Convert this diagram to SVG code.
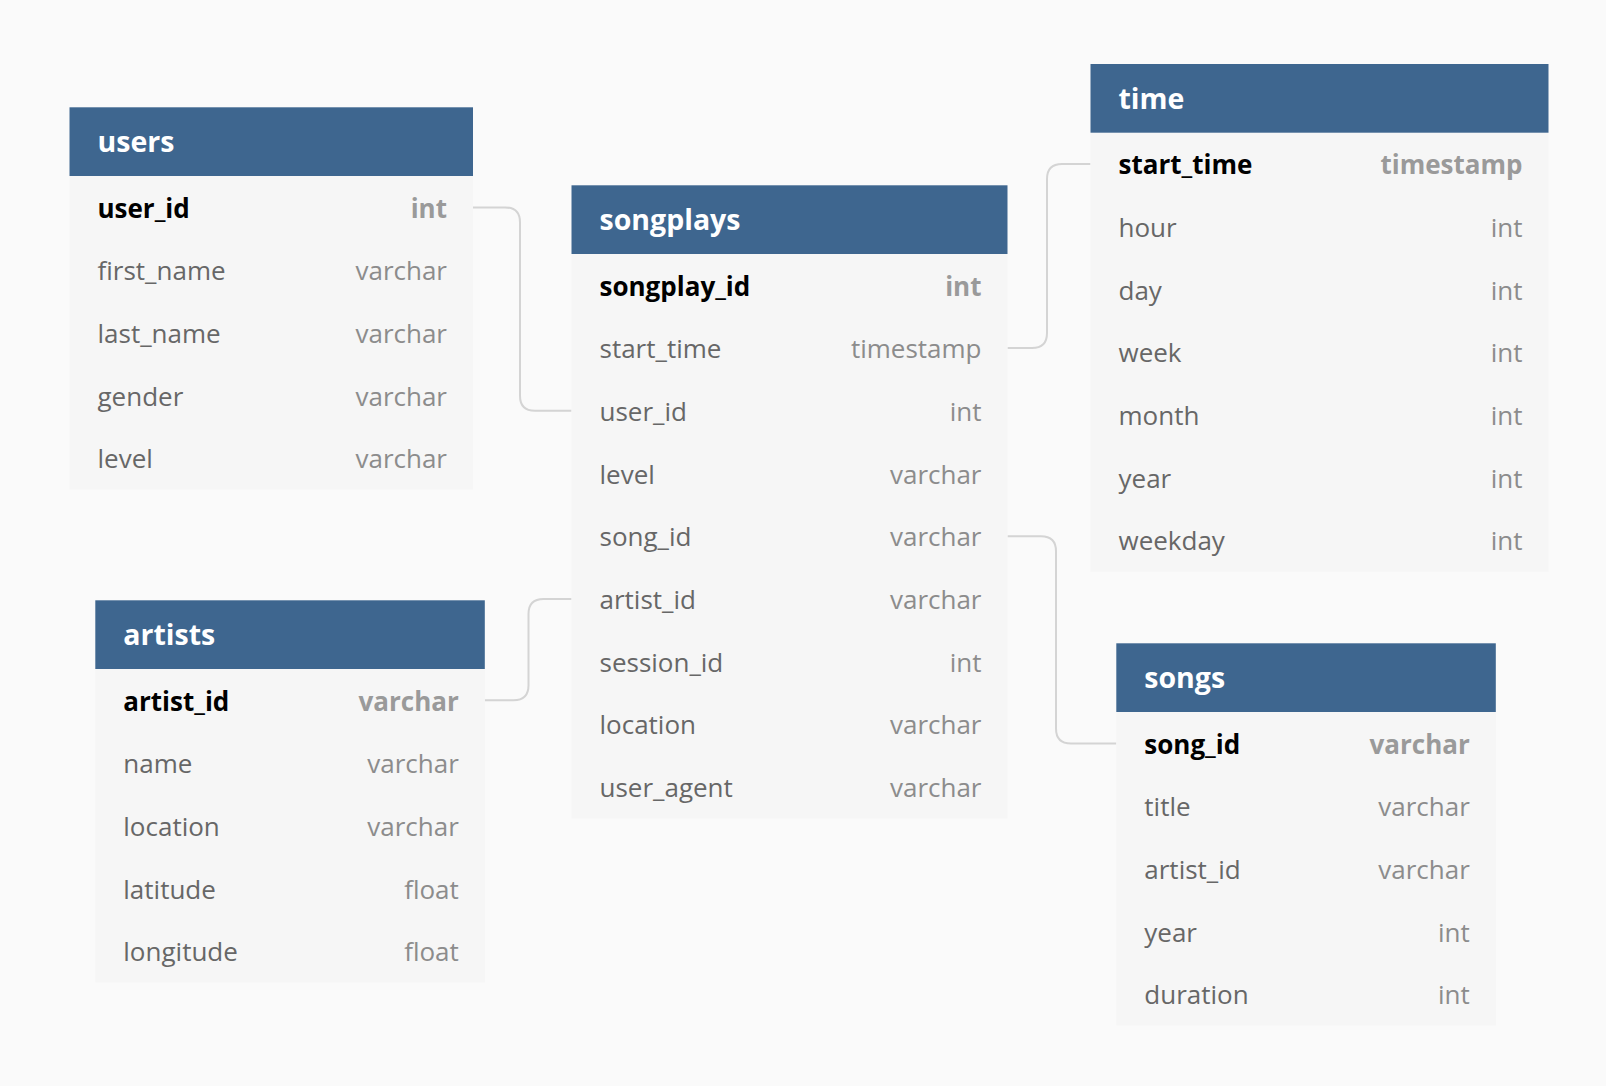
<svg xmlns="http://www.w3.org/2000/svg" width="1606" height="1086" viewBox="0 0 1606 1086">
<style>
  .bg{fill:#fafafa}
  .hdr{fill:#3e668f}
  .body{fill:#f6f6f6}
  .title{font-family:"Open Sans","Noto Sans",sans-serif;font-weight:700;font-size:28.5px;fill:#ffffff}
  .pk{font-family:"Open Sans","Noto Sans",sans-serif;font-weight:700;font-size:26px;fill:#000000}
  .pkt{font-family:"Open Sans","Noto Sans",sans-serif;font-weight:700;font-size:26px;fill:#9a9a9a;text-anchor:end}
  .col{font-family:"Open Sans","Noto Sans",sans-serif;font-size:26px;fill:#676767}
  .typ{font-family:"Open Sans","Noto Sans",sans-serif;font-size:26px;fill:#8c8c8c;text-anchor:end}
  .conn path{fill:none;stroke:#d4d4d4;stroke-width:2}
</style>
<rect class="bg" x="0" y="0" width="1606" height="1086"/>

<g id="connectors" class="conn">
  <path d="M473,207.4 H505 Q520,207.4 520,222.4 V395.7 Q520,410.7 535,410.7 H571.5"/>
  <path d="M1007.5,348 H1032 Q1047,348 1047,333 V179 Q1047,164 1062,164 H1090.5"/>
  <path d="M1007.5,536.2 H1041 Q1056,536.2 1056,551.2 V728.4 Q1056,743.4 1071,743.4 H1116.3"/>
  <path d="M484.8,700.3 H513.5 Q528.5,700.3 528.5,685.3 V614 Q528.5,599 543.5,599 H571.5"/>
</g>

<g id="users">
  <rect class="body" x="69.5" y="176" width="403.5" height="313.5"/>
  <rect class="hdr" x="69.5" y="107.3" width="403.5" height="68.7"/>
  <g transform="translate(-1,1)">
  <text class="title" x="98.5" y="151.3">users</text>
  <text class="pk" x="98.5" y="216.5">user_id</text><text class="pkt" x="448" y="216.5">int</text>
  <text class="col" x="98.5" y="279.2">first_name</text><text class="typ" x="448" y="279.2">varchar</text>
  <text class="col" x="98.5" y="341.9">last_name</text><text class="typ" x="448" y="341.9">varchar</text>
  <text class="col" x="98.5" y="404.6">gender</text><text class="typ" x="448" y="404.6">varchar</text>
  <text class="col" x="98.5" y="467.3">level</text><text class="typ" x="448" y="467.3">varchar</text>
  </g>
</g>

<g id="songplays">
  <rect class="body" x="571.5" y="254" width="436" height="564.3"/>
  <rect class="hdr" x="571.5" y="185.3" width="436" height="68.7"/>
  <g transform="translate(-1,1)">
  <text class="title" x="600.5" y="229.3">songplays</text>
  <text class="pk" x="600.5" y="294.5">songplay_id</text><text class="pkt" x="982.5" y="294.5">int</text>
  <text class="col" x="600.5" y="357.2">start_time</text><text class="typ" x="982.5" y="357.2">timestamp</text>
  <text class="col" x="600.5" y="419.9">user_id</text><text class="typ" x="982.5" y="419.9">int</text>
  <text class="col" x="600.5" y="482.6">level</text><text class="typ" x="982.5" y="482.6">varchar</text>
  <text class="col" x="600.5" y="545.3">song_id</text><text class="typ" x="982.5" y="545.3">varchar</text>
  <text class="col" x="600.5" y="608">artist_id</text><text class="typ" x="982.5" y="608">varchar</text>
  <text class="col" x="600.5" y="670.7">session_id</text><text class="typ" x="982.5" y="670.7">int</text>
  <text class="col" x="600.5" y="733.4">location</text><text class="typ" x="982.5" y="733.4">varchar</text>
  <text class="col" x="600.5" y="796.1">user_agent</text><text class="typ" x="982.5" y="796.1">varchar</text>
  </g>
</g>

<g id="time">
  <rect class="body" x="1090.5" y="132.7" width="458" height="438.9"/>
  <rect class="hdr" x="1090.5" y="64" width="458" height="68.7"/>
  <g transform="translate(-1,1)">
  <text class="title" x="1119.5" y="108">time</text>
  <text class="pk" x="1119.5" y="173.2">start_time</text><text class="pkt" x="1523.5" y="173.2">timestamp</text>
  <text class="col" x="1119.5" y="235.9">hour</text><text class="typ" x="1523.5" y="235.9">int</text>
  <text class="col" x="1119.5" y="298.6">day</text><text class="typ" x="1523.5" y="298.6">int</text>
  <text class="col" x="1119.5" y="361.3">week</text><text class="typ" x="1523.5" y="361.3">int</text>
  <text class="col" x="1119.5" y="424">month</text><text class="typ" x="1523.5" y="424">int</text>
  <text class="col" x="1119.5" y="486.7">year</text><text class="typ" x="1523.5" y="486.7">int</text>
  <text class="col" x="1119.5" y="549.4">weekday</text><text class="typ" x="1523.5" y="549.4">int</text>
  </g>
</g>

<g id="artists">
  <rect class="body" x="95.3" y="669" width="389.5" height="313.5"/>
  <rect class="hdr" x="95.3" y="600.3" width="389.5" height="68.7"/>
  <g transform="translate(-1,1)">
  <text class="title" x="124.3" y="644.3">artists</text>
  <text class="pk" x="124.3" y="709.5">artist_id</text><text class="pkt" x="459.8" y="709.5">varchar</text>
  <text class="col" x="124.3" y="772.2">name</text><text class="typ" x="459.8" y="772.2">varchar</text>
  <text class="col" x="124.3" y="834.9">location</text><text class="typ" x="459.8" y="834.9">varchar</text>
  <text class="col" x="124.3" y="897.6">latitude</text><text class="typ" x="459.8" y="897.6">float</text>
  <text class="col" x="124.3" y="960.3">longitude</text><text class="typ" x="459.8" y="960.3">float</text>
  </g>
</g>

<g id="songs">
  <rect class="body" x="1116.3" y="712" width="379.5" height="313.5"/>
  <rect class="hdr" x="1116.3" y="643.3" width="379.5" height="68.7"/>
  <g transform="translate(-1,1)">
  <text class="title" x="1145.3" y="687.3">songs</text>
  <text class="pk" x="1145.3" y="752.5">song_id</text><text class="pkt" x="1470.8" y="752.5">varchar</text>
  <text class="col" x="1145.3" y="815.2">title</text><text class="typ" x="1470.8" y="815.2">varchar</text>
  <text class="col" x="1145.3" y="877.9">artist_id</text><text class="typ" x="1470.8" y="877.9">varchar</text>
  <text class="col" x="1145.3" y="940.6">year</text><text class="typ" x="1470.8" y="940.6">int</text>
  <text class="col" x="1145.3" y="1003.3">duration</text><text class="typ" x="1470.8" y="1003.3">int</text>
  </g>
</g>
</svg>
